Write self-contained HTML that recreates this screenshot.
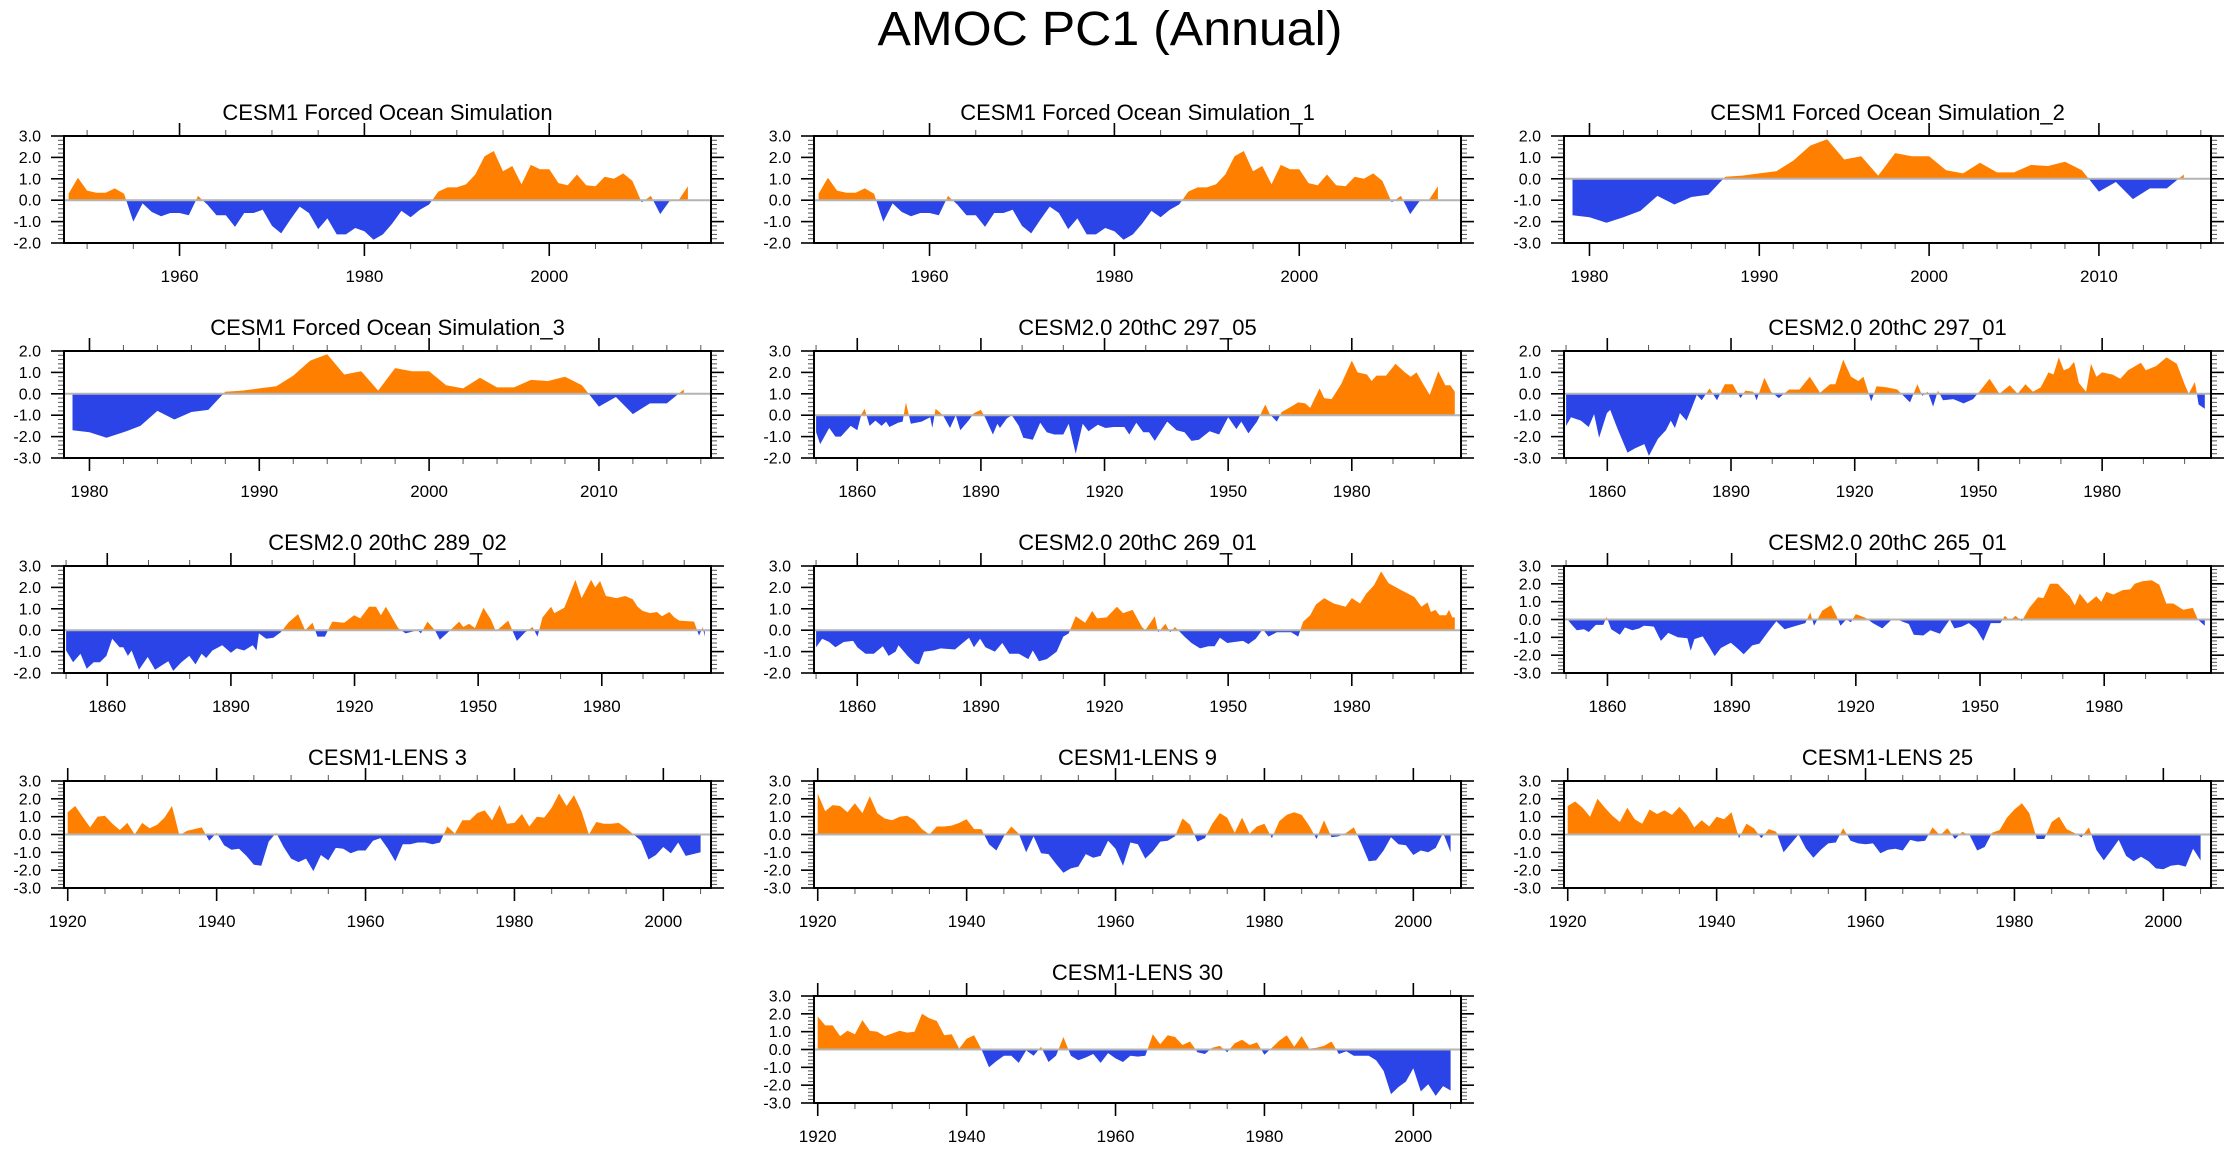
<!DOCTYPE html>
<html><head><meta charset="utf-8"><title>AMOC PC1 (Annual)</title>
<style>html,body{margin:0;padding:0;background:#fff;}svg{display:block;font-family:"Liberation Sans",Arial,sans-serif;}</style>
</head><body>
<svg id="fig" width="2230" height="1150" viewBox="0 0 2230 1150" xmlns="http://www.w3.org/2000/svg">
<rect width="2230" height="1150" fill="#fff"/>
<text x="1110" y="45" font-size="48" text-anchor="middle" textLength="465" lengthAdjust="spacingAndGlyphs">AMOC PC1 (Annual)</text>
</svg>
<script>
// ---------- data ----------
const p1Start = 1948;
const p1Values = [.3,1.05,.45,.35,.35,.55,.3,-1.0,-.15,-.55, -.75,-.6,-.6,-.7,.2,-.2,-.7,-.7,-1.25,-.6, -.6,-.45,-1.2,-1.55,-.9,-.3,-.6,-1.35,-.85,-1.6, -1.6,-1.3,-1.45,-1.85,-1.6,-1.1,-.5,-.8,-.45,-.2, .4,.6,.6,.75,1.2,2.05,2.3,1.35,1.6,.75, 1.65,1.45,1.45,.8,.7,1.2,.7,.65,1.1,1.0, 1.25,.9,-.1,.2,-.65,-.05,0,.65];
const p2Start = 1948;
const p2Values = [.3,1.05,.45,.35,.35,.55,.3,-1.0,-.15,-.55, -.75,-.6,-.6,-.7,.2,-.2,-.7,-.7,-1.25,-.6, -.6,-.45,-1.2,-1.55,-.9,-.3,-.6,-1.35,-.85,-1.6, -1.6,-1.3,-1.45,-1.85,-1.6,-1.1,-.5,-.8,-.45,-.2, .4,.6,.6,.75,1.2,2.05,2.3,1.35,1.6,.75, 1.65,1.45,1.45,.8,.7,1.2,.7,.65,1.1,1.0, 1.25,.9,-.1,.2,-.65,-.05,0,.65];
const p3Start = 1979;
const p3Values = [-1.7,-1.8,-2.05,-1.8,-1.5,-.8,-1.2,-.85,-.75,.1, .15,.25,.35,.85,1.55,1.85,.9,1.05,.15,1.2, 1.05,1.05,.4,.25,.75,.3,.3,.65,.6,.8, .4,-.6,-.15,-.95,-.45,-.45,.2];
const p4Start = 1979;
const p4Values = [-1.7,-1.8,-2.05,-1.8,-1.5,-.8,-1.2,-.85,-.75,.1, .15,.25,.35,.85,1.55,1.85,.9,1.05,.15,1.2, 1.05,1.05,.4,.25,.75,.3,.3,.65,.6,.8, .4,-.6,-.15,-.95,-.45,-.45,.2];

const p5Years = [1850,1851,1853.2,1854.7,1856,1858.4,1860,1861,1861.8,1863, 1864.4,1865.9,1867,1867.8,1869.9,1871,1871.8,1873,1875.6,1877.7, 1878.2,1879,1880.8,1882.5,1883.9,1885,1887,1888.3,1890,1891, 1892.9,1894,1894.6,1896.3,1897.5,1899.2,1900.3,1902.6,1904.4,1906, 1907.8,1910,1911.3,1913,1914.7,1916.1,1918.4,1920.2,1922.2,1924.8, 1926,1927.7,1929.4,1930.8,1932.2,1935.2,1937.5,1939.4,1941.1,1942.9, 1945.5,1947.8,1950,1952,1953.2,1954.9,1957,1959,1960.1,1961.8, 1963,1965.3,1967,1968.7,1969.9,1972.2,1973.3,1975.1,1977.4,1980, 1981.4,1983.7,1984.8,1986,1988.3,1990.6,1992.9,1994.3,1995.7,1997.5, 1998.9,2001,2002.7,2003.9,2005];
const p5Values = [-.8,-1.35,-.6,-1.0,-1.0,-.5,-.7,.05,.3,-.5, -.25,-.5,-.3,-.55,-.35,-.3,.6,-.4,-.3,-.1, -.6,.3,0,-.6,0,-.7,-.25,.1,.25,-.1, -.9,-.4,-.6,-.15,0,-.5,-1.05,-1.15,-.35,-.8, -.9,-.9,-.4,-1.8,-.4,-.75,-.45,-.6,-.55,-.55, -.9,-.35,-.8,-.8,-1.2,-.3,-.7,-.8,-1.2,-1.15, -.75,-.9,-.1,-.65,-.3,-.85,-.3,.5,.05,-.3, .15,.4,.6,.55,.35,1.25,.8,.75,1.45,2.55, 2.0,1.9,1.6,1.85,1.85,2.4,2.0,1.8,2.0,1.4, .95,2.05,1.4,1.4,1.1];

const p6Years = [1850,1851.2,1853.6,1855.5,1856.8,1858,1859.9,1860.7,1862.4,1864.9, 1866.7,1869,1870.1,1872.3,1874.2,1875.4,1876.4,1877.6,1879.2,1880.4, 1881.7,1882.9,1884.8,1886.6,1888.5,1890.4,1892.3,1893.5,1895.4,1896.2, 1898.1,1899.7,1901.6,1904.1,1906.6,1909.1,1911.6,1914,1915.3,1917.2, 1919.1,1920.9,1922.1,1924,1925.3,1927.8,1930.3,1933.4,1935.2,1936.4, 1937.7,1939,1940.2,1941.4,1943.9,1946.4,1948.7,1950.2,1952.7,1955.1, 1957.6,1959.5,1961.4,1963.2,1965.1,1967,1968.2,1969.5,1970.7,1972, 1973.2,1974.4,1976.1,1977.3,1978.6,1980,1982.5,1984.4,1986.3,1989.4, 1990.6,1993.1,1995.6,1998.1,2000,2001,2002.5,2003.4,2004.9];
const p6Values = [-1.5,-1.1,-1.25,-1.55,-.95,-2.05,-.9,-.75,-1.6,-2.75, -2.55,-2.35,-2.9,-2.1,-1.7,-1.25,-1.6,-.9,-1.25,-.7, -.05,-.3,.25,-.3,.45,.45,-.2,.15,.1,-.3, .75,.1,-.2,.2,.2,.8,.05,.45,.45,1.6, .8,.6,.8,-.35,.35,.3,.2,-.4,.45,-.1, .1,-.6,.15,-.3,-.25,-.45,-.25,.1,.7,0, .4,0,.45,.1,.3,1.0,.9,1.7,1.1,1.2, 1.5,.5,.1,1.4,.8,1.0,.9,.7,1.1,1.45, 1.1,1.3,1.7,1.4,.45,0,.55,-.5,-.7];

const p7Years = [1850,1851.7,1853.5,1855,1856.7,1858.2,1859.8,1861.2,1863,1863.9, 1865,1865.9,1867.7,1869.8,1871.6,1873.6,1874.8,1876,1878,1879.9, 1881.4,1882.9,1884,1885.5,1887.9,1890,1891.4,1893.2,1895.3,1896.2, 1896.8,1898.6,1900.3,1902.1,1903.9,1906.3,1908,1909.8,1911,1912.8, 1914.6,1917.5,1919.9,1921.4,1923.5,1925.2,1926.4,1927.6,1930.6,1932.4, 1935.3,1936.1,1937.7,1939.5,1940.7,1942.4,1945.4,1946.4,1947.8,1949.2, 1951.3,1953.1,1954.3,1957.3,1959.4,1961.4,1963.2,1964.4,1965.6,1967.7, 1968.5,1970.9,1973.6,1975.1,1977.4,1978.4,1979.6,1981,1983.6,1985.7, 1987.5,1988.7,1989.9,1991.7,1993.4,1994.6,1996.4,1997.6,1998.8,2002.4, 2003.6,2004.5,2005];
const p7Values = [-.95,-1.5,-1.1,-1.8,-1.5,-1.5,-1.2,-.4,-.8,-.8, -1.2,-.95,-1.85,-1.25,-1.85,-1.6,-1.45,-1.9,-1.5,-1.2, -1.6,-1.1,-1.3,-.95,-.7,-1.05,-.85,-.95,-.7,-.95, -.15,-.4,-.35,-.1,.35,.75,0,.35,-.3,-.3, .4,.35,.7,.55,1.1,1.1,.7,1.1,.1,-.15, 0,-.15,.4,0,-.45,-.15,.4,.15,.3,.1, 1.05,.5,-.05,.45,-.5,-.1,.15,-.3,.6,1.1, .8,1.05,2.35,1.5,2.35,2.0,2.3,1.6,1.5,1.6, 1.45,1.1,.9,.8,.85,.65,.85,.6,.45,.4, -.25,.15,-.3];

const p8Years = [1850,1851.5,1853.2,1854.7,1856.7,1859,1860,1862,1864,1866.2, 1867.6,1869.3,1870,1872.2,1874,1875,1876.2,1878.5,1880.2,1883.7, 1887.1,1888.3,1889.8,1891.1,1893.4,1895.2,1896.9,1899.2,1901.5,1902.6, 1904.1,1906,1908.4,1910,1911.3,1913,1915.3,1917,1918.2,1920.5, 1923,1924.5,1926.8,1929.1,1929.9,1932.2,1933,1934.8,1935.9,1937.1, 1939.4,1941.1,1943.2,1945.2,1946.7,1948,1949.8,1951.5,1953.6,1954.9, 1956.7,1958.4,1959.8,1961.8,1965.3,1967,1968.2,1969.9,1971.3,1973.3, 1975.6,1978.5,1980,1982,1983.5,1985.4,1987.1,1988.9,1991.7,1995.2, 1996.9,1998.4,1999.2,2000.3,2001.3,2002.9,2003.6,2004.4,2005];
const p8Values = [-.8,-.4,-.55,-.8,-.55,-.5,-.8,-1.1,-1.1,-.75, -1.2,-1.0,-.7,-1.2,-1.55,-1.6,-1.0,-.95,-.85,-.9, -.35,-.8,-.4,-.8,-1.0,-.6,-1.1,-1.1,-1.35,-.95, -1.45,-1.35,-1.0,-.3,-.15,.65,.35,.9,.55,.6, 1.1,.8,.95,.15,0,.65,-.1,.3,-.1,.15, -.3,-.6,-.85,-.75,-.75,-.35,-.6,-.55,-.5,-.65, -.4,.05,-.3,-.1,-.1,-.3,.4,.7,1.2,1.5, 1.25,1.1,1.5,1.25,1.7,2.1,2.75,2.2,1.9,1.55, 1.1,1.3,.85,.95,.7,.7,.95,.6,.6];

const p9Years = [1850,1851.4,1852.6,1854.3,1855.5,1857.2,1859,1859.8,1860.9,1863, 1864.2,1866,1867.7,1868.8,1871.2,1872.9,1874.7,1877,1879.3,1880.1, 1881,1883,1884.5,1885.9,1887.4,1889.8,1891.3,1892.9,1895,1896.7, 1899.1,1900.8,1902.8,1904.9,1907.8,1909,1909.9,1911.9,1914,1915.3, 1916.3,1917.7,1918.8,1920,1922.3,1924.1,1926.4,1928.7,1930.5,1932.8, 1934,1936.3,1938,1940.3,1942.7,1943.8,1945.6,1947.3,1949.1,1950.8, 1952.6,1954.9,1956,1957.2,1958.6,1960.1,1961.9,1964,1965.3,1966.9, 1968.8,1970.6,1971.7,1972.9,1974.1,1976,1978.1,1979.3,1980.5,1982.2, 1984.5,1986.3,1987.4,1989.2,1991.5,1993.3,1995,1996.7,1999.1,2001.4, 2002.6,2004.3];
const p9Values = [.1,-.3,-.6,-.55,-.7,-.3,-.3,.15,-.55,-.85, -.45,-.6,-.5,-.35,-.4,-1.2,-.75,-1.0,-1.05,-1.75, -1.1,-.95,-1.5,-2.05,-1.6,-1.3,-1.6,-1.95,-1.45,-1.35, -.6,-.1,-.55,-.4,-.2,.4,-.35,.5,.8,.2, -.35,0,-.15,.3,.1,-.2,-.5,0,-.05,-.25, -.85,-.9,-.6,-.8,0,-.5,-.4,-.2,-.55,-1.2, -.2,-.2,.2,-.05,.2,-.1,.65,1.25,1.2,2.0, 2.0,1.55,1.3,.8,1.45,.9,1.3,1.0,1.55,1.4, 1.65,1.7,2.0,2.15,2.2,1.95,.9,.9,.55,.65, 0,-.35];

const p10Start = 1920;
const p10Values = [1.25,1.6,1.0,.4,1.0,1.05,.6,.25,.65,0, .65,.35,.55,.95,1.6,-.05,.2,.3,.4,-.35, .1,-.6,-.85,-.8,-1.2,-1.7,-1.75,-.4,.1,-.7, -1.35,-1.55,-1.35,-2.05,-1.15,-1.45,-.75,-.8,-1.05,-.9, -.9,-.35,-.2,-.8,-1.5,-.55,-.55,-.45,-.45,-.55, -.45,.45,.05,.8,.8,1.2,1.35,.8,1.65,.6, .65,1.15,.45,1.0,.95,1.5,2.3,1.6,2.2,1.3, 0,.7,.6,.6,.65,.35,0,-.35,-1.4,-1.15, -.7,-1.05,-.45,-1.2,-1.1,-1.0];
const p11Start = 1920;
const p11Values = [2.3,1.3,1.65,1.6,1.25,1.75,1.2,2.15,1.2,.9, .8,1.0,1.05,.8,.3,0,.45,.45,.5,.65, .85,.3,.3,-.55,-.9,-.1,.45,.05,-1.0,-.1, -1.05,-1.1,-1.65,-2.15,-1.9,-1.8,-1.1,-1.3,-1.2,-.35, -.8,-1.75,-.45,-.55,-1.35,-.95,-.4,-.35,-.1,.9, .55,-.4,-.2,.6,1.2,.95,.1,.95,.05,.45, .6,-.2,.75,1.1,1.25,1.1,.5,-.25,.8,-.15, -.1,.1,.4,-.5,-1.5,-1.45,-.9,-.15,-.55,-.6, -1.15,-.9,-1.0,-.75,.1,-1.0];
const p12Start = 1920;
const p12Values = [1.6,1.85,1.5,1.0,2.0,1.5,1.05,.7,1.5,.85, .6,1.4,1.15,1.35,1.1,1.55,1.1,.4,.8,.45, 1.0,.85,1.25,-.2,.6,.35,-.2,.3,.15,-1.0, -.5,0,-.8,-1.3,-.85,-.5,-.45,.35,-.35,-.5, -.55,-.5,-1.05,-.85,-.8,-.9,-.3,-.4,-.35,.4, -.05,.35,-.25,.15,-.05,-.9,-.7,.1,.25,.95, 1.4,1.75,1.2,-.25,-.25,.7,1.0,.3,.1,-.15, .4,-.85,-1.45,-.9,-.3,-1.2,-1.5,-1.25,-1.5,-1.9, -1.95,-1.75,-1.7,-1.8,-.8,-1.45];
const p13Start = 1920;
const p13Values = [1.85,1.35,1.35,.75,1.05,.85,1.65,1.05,1.0,.75, .9,1.05,.95,1.0,2.0,1.75,1.6,.8,.85,.05, .6,.8,0,-1.0,-.65,-.35,-.35,-.75,-.05,-.35, .15,-.7,-.35,.7,-.35,-.6,-.45,-.25,-.75,-.2, -.5,-.7,-.35,-.4,-.35,.85,.3,.8,.7,.25, .45,-.15,-.25,.1,.2,-.15,.35,.55,.25,.4, -.3,.1,.5,.8,.15,.75,.05,.1,.2,.45, -.25,-.1,-.35,-.35,-.35,-.6,-1.2,-2.5,-2.1,-1.8, -1.05,-2.35,-1.95,-2.6,-2.05,-2.3];

const panelTitles = ["CESM1 Forced Ocean Simulation","CESM1 Forced Ocean Simulation_1","CESM1 Forced Ocean Simulation_2","CESM1 Forced Ocean Simulation_3","CESM2.0 20thC 297_05","CESM2.0 20thC 297_01","CESM2.0 20thC 289_02","CESM2.0 20thC 269_01","CESM2.0 20thC 265_01","CESM1-LENS 3","CESM1-LENS 9","CESM1-LENS 25","CESM1-LENS 30"];
const yMins = [-2,-2,-3,-3,-2,-3,-2,-2,-3,-3,-3,-3,-3];
const yMaxs = [3,3,2,2,3,2,3,3,3,3,3,3,3];

function annual(start, vals){ return vals.map((v,i)=>start+i); }
const seriesYears = [annual(p1Start,p1Values),annual(p2Start,p2Values),annual(p3Start,p3Values),annual(p4Start,p4Values),p5Years,p6Years,p7Years,p8Years,p9Years,annual(p10Start,p10Values),annual(p11Start,p11Values),annual(p12Start,p12Values),annual(p13Start,p13Values)];
const seriesValues = [p1Values,p2Values,p3Values,p4Values,p5Values,p6Values,p7Values,p8Values,p9Values,p10Values,p11Values,p12Values,p13Values];

// ---------- layout ----------
const colL = [64,814,1564], rowT = [136,351,566,781,996], PW = 647, PH = 107;
const pos = [[0,0],[1,0],[2,0],[0,1],[1,1],[2,1],[0,2],[1,2],[2,2],[0,3],[1,3],[2,3],[1,4]];
const NS = "http://www.w3.org/2000/svg";
const svg = document.getElementById('fig');
function mk(tag, attrs, parent){ const e=document.createElementNS(NS,tag); for(const k in attrs) e.setAttribute(k,attrs[k]); parent.appendChild(e); return e; }

function axisSpec(yrs){
  const a=yrs[0], b=yrs[yrs.length-1], span=b-a;
  if(span>100) return {xmin:a-0.5,xmax:b+1.5,major:30,minor:10,first:1860};
  if(span>75) return {xmin:a-0.5,xmax:b+1.4,major:20,minor:5,first:1920};
  if(span>50) return {xmin:a-0.5,xmax:b+2.5,major:20,minor:5,first:1960};
  return {xmin:a-0.5,xmax:b+1.6,major:10,minor:2,first:1980};
}

for(let p=0;p<13;p++){
  const L=colL[pos[p][0]], T=rowT[pos[p][1]], R=L+PW, B=T+PH;
  const yrs=seriesYears[p], vals=seriesValues[p], ymin=yMins[p], ymax=yMaxs[p];
  const ax=axisSpec(yrs);
  const xs=t=>L+(t-ax.xmin)/(ax.xmax-ax.xmin)*PW;
  const ys=v=>T+(ymax-v)/(ymax-ymin)*PH;
  const g=mk('g',{},svg);
  
  
  const tt=mk('text',{x:L+PW/2,y:T-16,'font-size':22,'text-anchor':'middle'},g);
  tt.textContent=panelTitles[p];
  
  
  // insert zero crossings
  const pts=[];
  for(let i=0;i<yrs.length;i++){
    if(i>0){const v0=vals[i-1],v1=vals[i];
      if((v0>0&&v1<0)||(v0<0&&v1>0)){const f=v0/(v0-v1);pts.push([yrs[i-1]+f*(yrs[i]-yrs[i-1]),0]);}}
    pts.push([yrs[i],vals[i]]);
  }
  const y0=ys(0);
  function area(sign){
    let d='M'+xs(pts[0][0]).toFixed(1)+','+y0.toFixed(1);
    for(const q of pts){const v=sign>0?Math.max(q[1],0):Math.min(q[1],0); d+='L'+xs(q[0]).toFixed(1)+','+ys(v).toFixed(1);}
    d+='L'+xs(pts[pts.length-1][0]).toFixed(1)+','+y0.toFixed(1)+'Z';
    return d;
  }
  const pa=mk('path',{d:area(1),fill:'#ff8000',stroke:'none'},g);
  
  
  const na=mk('path',{d:area(-1),fill:'#2a44e8',stroke:'none'},g);
  
  
  const zl=mk('line',{x1:L,x2:R,y1:y0,y2:y0,stroke:'#b4b4b4','stroke-width':2},g);
  
  
  // y ticks
  for(let k=Math.round(ymin*5);k<=Math.round(ymax*5);k++){
    const v=k/5, y=ys(v), maj=(k%5===0), len=maj?13:6;
    mk('line',{x1:L-len,x2:L,y1:y,y2:y,stroke:maj?'#000':'#555','stroke-width':maj?1.6:1},g);
    mk('line',{x1:R,x2:R+len,y1:y,y2:y,stroke:maj?'#000':'#555','stroke-width':maj?1.6:1},g);
    if(maj){const lb=mk('text',{x:L-23,y:y+5.5,'font-size':16,'text-anchor':'end'},g);
      lb.textContent=v.toFixed(1);
      
      }
  }
  // x ticks
  let t0=ax.first; while(t0-ax.minor>=ax.xmin) t0-=ax.minor;
  for(let t=t0;t<=ax.xmax+1e-6;t+=ax.minor){
    const x=xs(t), maj=(((t-ax.first)%ax.major)+ax.major)%ax.major===0, len=maj?13:6;
    mk('line',{x1:x,x2:x,y1:B,y2:B+len,stroke:maj?'#000':'#555','stroke-width':maj?1.6:1},g);
    mk('line',{x1:x,x2:x,y1:T-len,y2:T,stroke:maj?'#000':'#555','stroke-width':maj?1.6:1},g);
    if(maj){const lb=mk('text',{x:x,y:B+39,'font-size':17,'text-anchor':'middle'},g);
      lb.textContent=String(t);
      
      }
  }
  const fr=mk('rect',{x:L,y:T,width:PW,height:PH,fill:'none',stroke:'#000','stroke-width':2},g);
  
  
}
</script>
</body></html>
